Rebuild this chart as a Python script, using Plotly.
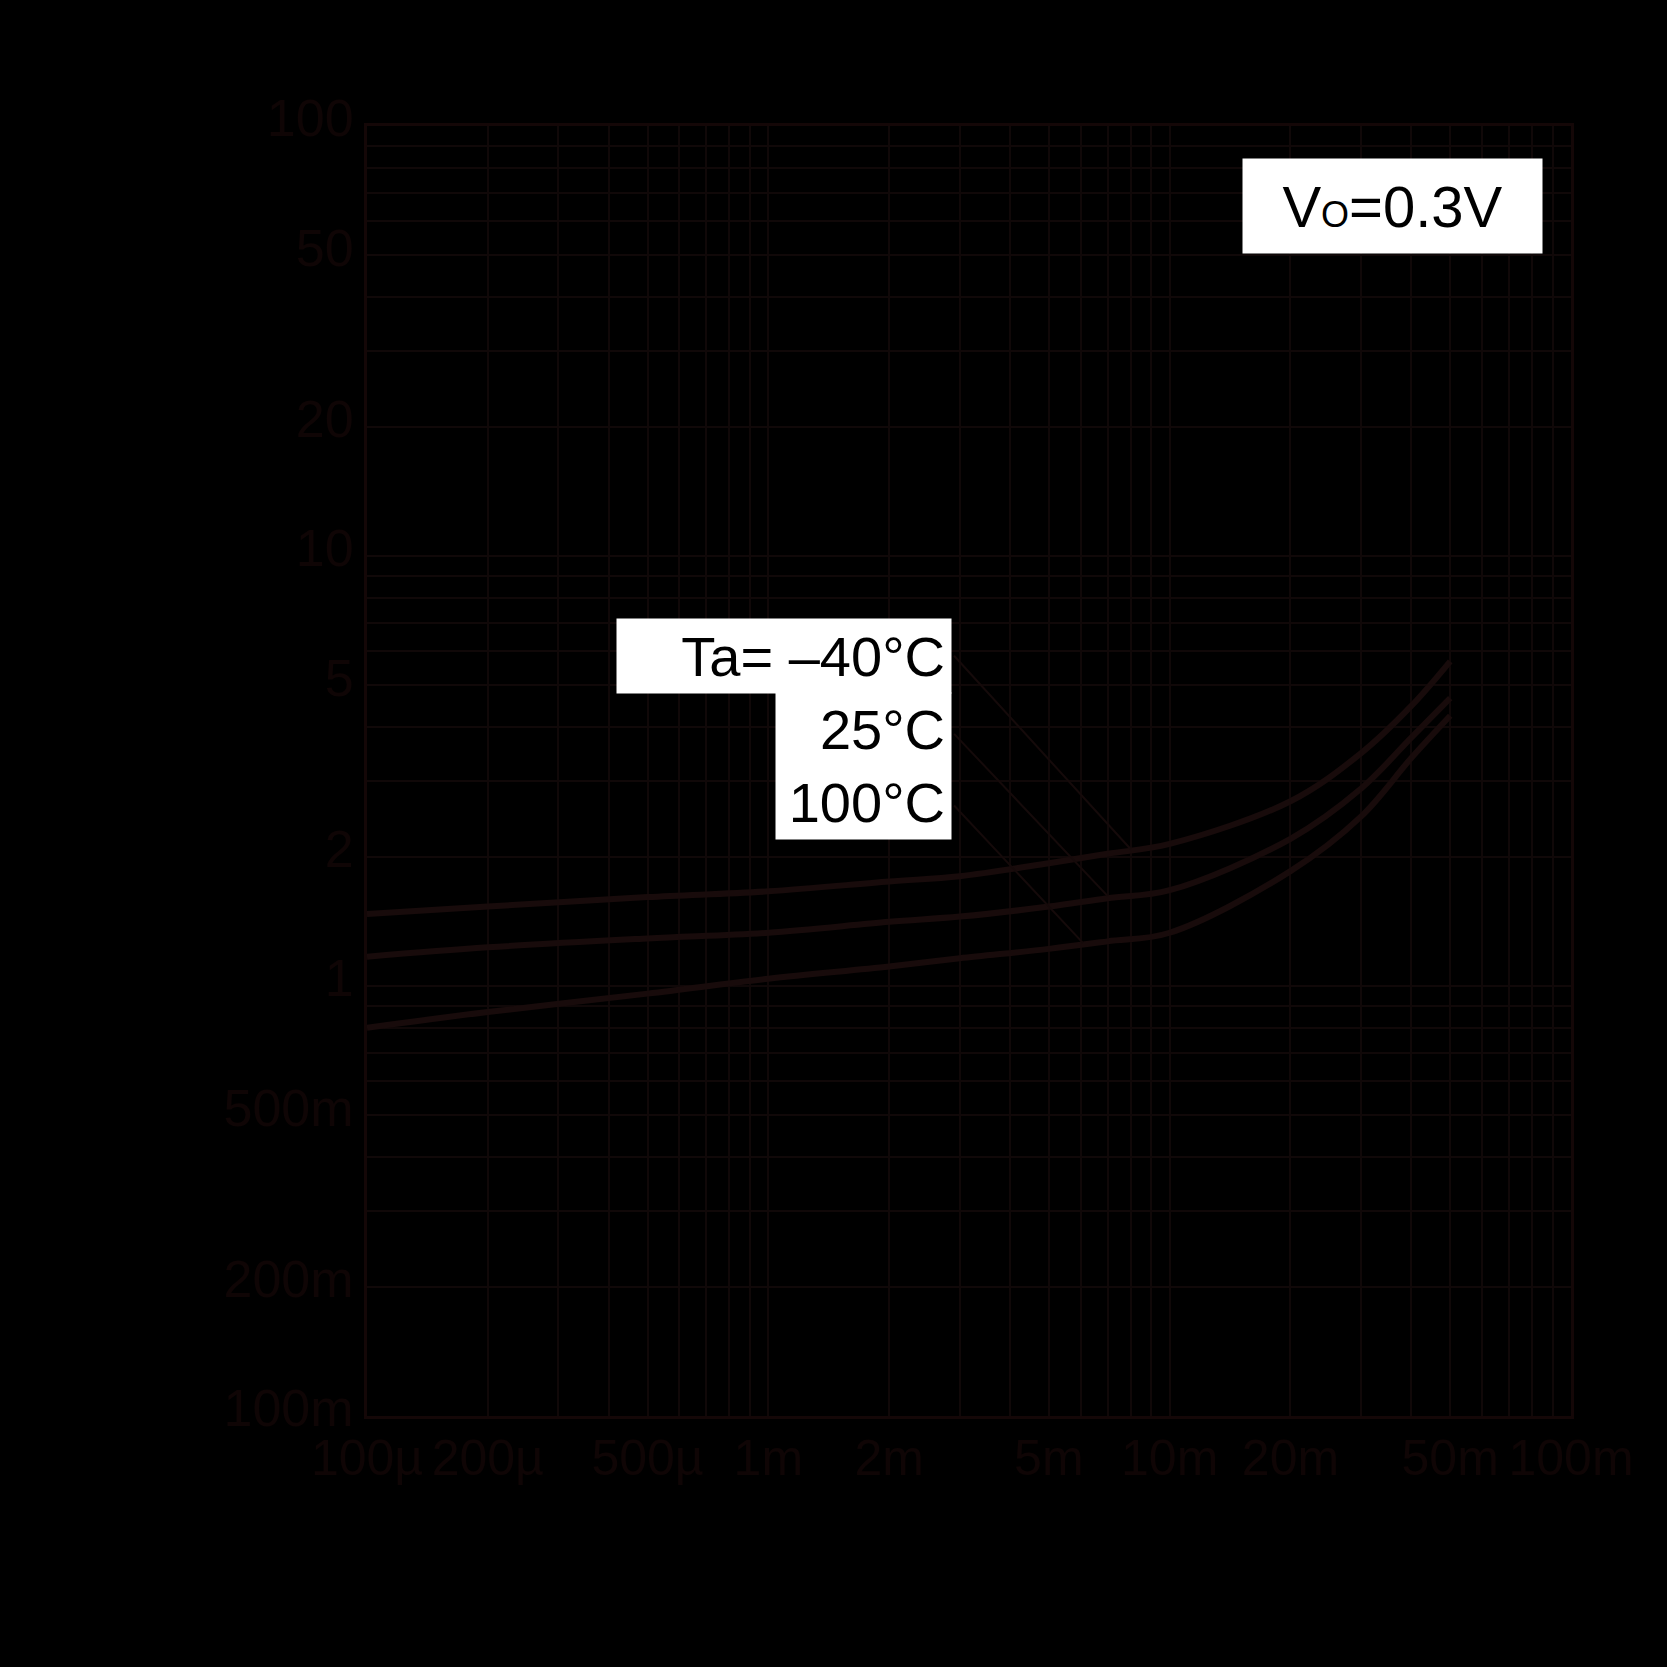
import math
import plotly.graph_objects as go

# Output current (A)
current = [1e-4, 2e-4, 5e-4, 1e-3, 2e-3, 3e-3, 5e-3, 7e-3, 1e-2, 2e-2, 3e-2, 4e-2, 5e-2]
# Output resistance (ohm) per ambient temperature
r_m40 = [1.47, 1.53, 1.61, 1.66, 1.75, 1.80, 1.93, 2.03, 2.14, 2.69, 3.48, 4.48, 5.69]
r_25 = [1.17, 1.23, 1.29, 1.33, 1.41, 1.45, 1.53, 1.60, 1.67, 2.20, 2.88, 3.78, 4.67]
r_100 = [0.80, 0.87, 0.96, 1.04, 1.11, 1.16, 1.22, 1.27, 1.33, 1.85, 2.48, 3.39, 4.25]

x_tickvals = [1e-4, 2e-4, 5e-4, 1e-3, 2e-3, 5e-3, 1e-2, 2e-2, 5e-2, 1e-1]
x_ticktext = ["100µ", "200µ", "500µ", "1m", "2m", "5m", "10m", "20m", "50m", "100m"]
y_tickvals = [0.1, 0.2, 0.5, 1, 2, 5, 10, 20, 50, 100]
y_ticktext = ["100m", "200m", "500m", "1", "2", "5", "10", "20", "50", "100"]

x_minor = [m * 10 ** e for e in (-4, -3, -2) for m in range(1, 10)] + [1e-1]
y_minor = [m * 10 ** e for e in (-1, 0, 1) for m in range(1, 10)] + [100]

curve_color = "#180b0b"
grid_color = "#100808"
axis_color = "#140707"
text_color = "#0f0505"
xtick_font = dict(family="Liberation Sans, Arial", size=50, color=text_color)
ytick_font = dict(family="Liberation Sans, Arial", size=52, color=text_color)

fig = go.Figure()
for ys, name in [(r_m40, "-40°C"), (r_25, "25°C"), (r_100, "100°C")]:
    fig.add_trace(go.Scatter(x=current, y=ys, mode="lines", name=name,
                             line=dict(color=curve_color, width=6, shape="spline", smoothing=1.0),
                             showlegend=False))

# leader lines: (head x, head y on curve, tail x, tail y)
leaders = [
    (8e-3, 2.08, 2.88e-3, 5.91),
    (7e-3, 1.62, 2.88e-3, 3.89),
    (6.08e-3, 1.26, 2.88e-3, 2.65),
]
for hx, hy, tx, ty in leaders:
    fig.add_annotation(x=math.log10(hx), y=math.log10(hy), ax=math.log10(tx), ay=math.log10(ty),
                       xref="x", yref="y", axref="x", ayref="y", text="",
                       showarrow=True, arrowhead=0, arrowwidth=2, arrowcolor="#150a0a")

label_font = dict(family="Liberation Sans, Arial", size=56, color="black")
fig.add_annotation(x=0.3466, y=0.589, xref="paper", yref="paper", text="Ta= –40°C",
                   xanchor="center", yanchor="middle",
                   showarrow=False, bgcolor="white", width=322, height=62, borderpad=6,
                   align="right", font=label_font)
fig.add_annotation(x=0.4125, y=0.5039, xref="paper", yref="paper", text="25°C<br>100°C",
                   xanchor="center", yanchor="middle",
                   showarrow=False, bgcolor="white", width=163, height=134, borderpad=6,
                   align="right", font=label_font)
fig.add_annotation(x=0.852, y=0.938, xref="paper", yref="paper",
                   text="V<span style='font-size:36px'>O</span>=0.3V",
                   xanchor="center", yanchor="middle",
                   showarrow=False, bgcolor="white", width=287, height=82, borderpad=6,
                   align="center", font=dict(family="Liberation Sans, Arial", size=58, color="black"))

fig.update_xaxes(type="log", range=[-4, -1], tickvals=x_tickvals, ticktext=x_ticktext,
                 tickangle=0, ticklabelstandoff=-4,
                 showgrid=True, gridcolor=grid_color, gridwidth=2,
                 minor=dict(tickvals=x_minor, showgrid=True, gridcolor=grid_color, gridwidth=2),
                 showline=True, linecolor=axis_color, linewidth=3, mirror=True,
                 ticks="", tickfont=xtick_font, zeroline=False)
fig.update_yaxes(type="log", range=[-1, 2], tickvals=y_tickvals, ticktext=y_ticktext,
                 ticklabelshift=-8,
                 showgrid=True, gridcolor=grid_color, gridwidth=2,
                 minor=dict(tickvals=y_minor, showgrid=True, gridcolor=grid_color, gridwidth=2),
                 showline=True, linecolor=axis_color, linewidth=3, mirror=True,
                 ticks="", tickfont=ytick_font, zeroline=False)

fig.update_layout(width=1667, height=1667,
                  margin=dict(l=367, r=96, t=126, b=251),
                  paper_bgcolor="black", plot_bgcolor="black",
                  showlegend=False)

fig.write_html("out.html", config={"displayModeBar": False},
               post_script="document.body.style.margin='0';document.body.style.background='black';")
